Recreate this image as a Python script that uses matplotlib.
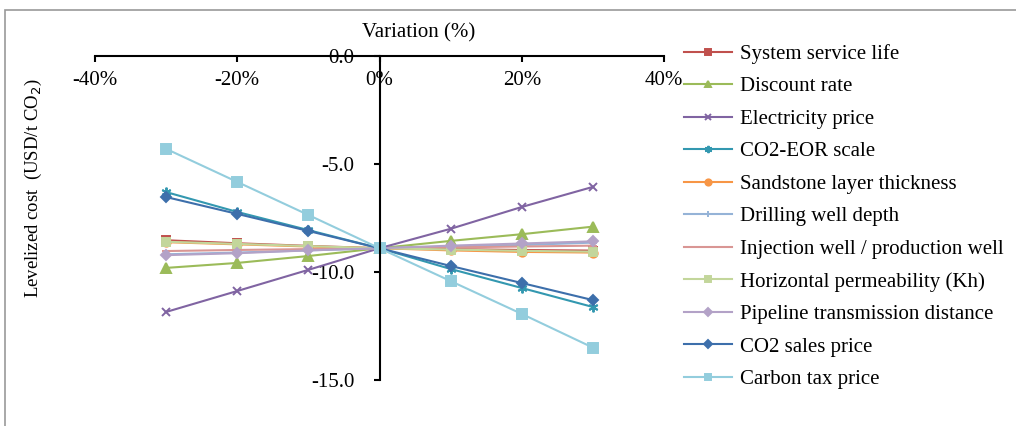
import matplotlib.pyplot as plt
from matplotlib.patches import Rectangle
from matplotlib.ticker import FuncFormatter

plt.rcParams['font.family'] = ['Liberation Serif', 'DejaVu Serif']
plt.rcParams['axes.unicode_minus'] = False

# variation in percent
variation = [-30, -20, -10, 0, 10, 20, 30]

# levelized cost (USD/t CO2) for each factor
service_life = [-8.53, -8.67, -8.79, -8.9, -8.94, -8.98, -9.01]
discount_rate = [-9.81, -9.58, -9.26, -8.9, -8.56, -8.25, -7.9]
electricity_price = [-11.85, -10.88, -9.9, -8.9, -8.0, -6.99, -6.06]
eor_scale = [-6.3, -7.22, -8.06, -8.9, -9.86, -10.74, -11.62]
sandstone = [-8.62, -8.72, -8.82, -8.9, -9.0, -9.07, -9.1]
well_depth = [-9.18, -9.1, -9.0, -8.9, -8.82, -8.75, -8.64]
inj_prod = [-9.03, -8.98, -8.94, -8.9, -8.86, -8.82, -8.78]
permeability = [-8.6, -8.7, -8.8, -8.9, -8.96, -9.02, -9.06]
pipeline = [-9.22, -9.13, -9.0, -8.9, -8.78, -8.68, -8.58]
co2_sales = [-6.53, -7.31, -8.1, -8.9, -9.72, -10.51, -11.3]
carbon_tax = [-4.3, -5.83, -7.36, -8.9, -10.42, -11.94, -13.5]

series = [
    ('System service life', service_life, '#C0504D', 's', 6),
    ('Discount rate', discount_rate, '#9BBB59', '^', 6.5),
    ('Electricity price', electricity_price, '#8064A2', 'x', 5.5),
    ('CO2-EOR scale', eor_scale, '#3398B0', (6, 2, 0), 7),
    ('Sandstone layer thickness', sandstone, '#F79646', 'o', 6),
    ('Drilling well depth', well_depth, '#95B3D7', '+', 6),
    ('Injection well / production well', inj_prod, '#D99694', '_', 6),
    ('Horizontal permeability (Kh)', permeability, '#C3D69B', 's', 6),
    ('Pipeline transmission distance', pipeline, '#B3A2C7', 'D', 5.5),
    ('CO2 sales price', co2_sales, '#3D6FAB', 'D', 5.5),
    ('Carbon tax price', carbon_tax, '#93CDDD', 's', 6.5),
]

fig = plt.figure(figsize=(10.16, 4.26), dpi=100)
ax = fig.add_axes([95/1016, 1 - 380/426, 569/1016, 324/426])

for name, vals, col, mk, ms in series:
    ax.plot(variation, vals, color=col, marker=mk, ms=ms, lw=1.5, mew=1.4, label=name)

ax.set_xlim(-40, 40)
ax.set_ylim(-15, 0)
ax.set_xticks([-40, -20, 0, 20, 40])
ax.set_yticks([0, -5, -10, -15])
ax.xaxis.set_major_formatter(FuncFormatter(lambda v, p: '%d%%' % v))
ax.yaxis.set_major_formatter(FuncFormatter(lambda v, p: '%.1f' % v))

ax.spines['bottom'].set_position(('data', 0))
ax.spines['left'].set_position(('data', 0))
ax.spines['right'].set_visible(False)
ax.spines['top'].set_visible(False)
for s in ('bottom', 'left'):
    ax.spines[s].set_linewidth(1.5)
ax.tick_params(axis='x', direction='out', length=4, width=1.5, pad=7, labelsize=15)
ax.tick_params(axis='y', direction='out', length=4, width=1.5, pad=14, labelsize=15)
ax.patch.set_visible(False)

fig.text(419/1016, 1 - 33/426, 'Variation (%)', ha='center', va='center', fontsize=15)
fig.text(33/1016, 1 - 188/426, 'Levelized cost  (USD/t CO$_2$)', rotation=90,
         ha='center', va='center', fontsize=13.5)

fig.legend(loc='upper left', bbox_to_anchor=(684/1016, 1 - 44/426), frameon=False,
           fontsize=15, handlelength=2.3, handletextpad=0.4, labelspacing=0.62,
           markerscale=0.75, borderaxespad=0, borderpad=0)

fig.patches.append(Rectangle((5/1016, -0.1), 1.2, 1.1 - 10/426, transform=fig.transFigure,
                             fill=False, edgecolor='#999999', lw=1.2))

fig.savefig('out.png', dpi=100)
